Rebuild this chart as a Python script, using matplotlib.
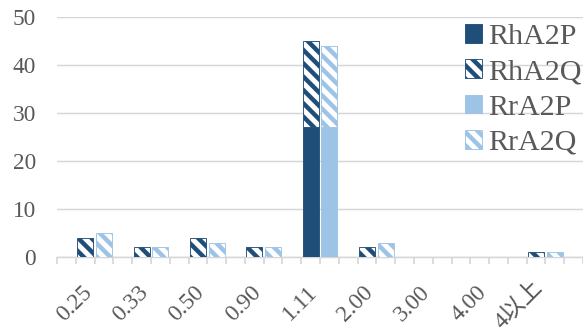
import matplotlib
matplotlib.use("Agg")
import matplotlib.pyplot as plt
import matplotlib.transforms as mtransforms
import numpy as np

# Ratio classes on the category axis
categories = ["0.25", "0.33", "0.50", "0.90", "1.11", "2.00", "3.00", "4.00", "4以上"]

# Counts per class for each series
rha2p = [0, 0, 0, 0, 27, 0, 0, 0, 0]
rha2q = [4, 2, 4, 2, 18, 2, 0, 0, 1]
rra2p = [0, 0, 0, 0, 27, 0, 0, 0, 0]
rra2q = [5, 2, 3, 2, 17, 3, 0, 0, 1]

series_names = ["RhA2P", "RhA2Q", "RrA2P", "RrA2Q"]
y_ticks = [0, 10, 20, 30, 40, 50]

dark = "#1f4e79"
light = "#9dc3e6"
grid_c = "#d6d6d6"
text_c = "#595959"

DPI = 80
plt.rcParams["hatch.linewidth"] = 4.0
plt.rcParams["font.family"] = ["Liberation Serif", "Noto Sans CJK JP"]

fig = plt.figure(figsize=(583 / DPI, 334 / DPI), dpi=DPI)
ax = fig.add_axes([57 / 583, 1 - 257 / 334, 1 - 57 / 583, 240 / 334])

n = len(categories)
idx = np.arange(n)
# three slots per class (blank, Rh, Rr) plus one trailing blank slot
x_rh = idx * 3 + 1
x_rr = idx * 3 + 2
n_slots = 3 * n + 1
w = 0.85

ax.bar(x_rh, rha2p, w, color=dark, edgecolor=dark, linewidth=0.8, label=series_names[0], zorder=3)
ax.bar(x_rh, rha2q, w, bottom=rha2p, facecolor="white", edgecolor=dark, hatch="\\\\",
       linewidth=0.8, label=series_names[1], zorder=3)
ax.bar(x_rr, rra2p, w, color=light, edgecolor=light, linewidth=0.8, label=series_names[2], zorder=3)
ax.bar(x_rr, rra2q, w, bottom=rra2p, facecolor="white", edgecolor=light, hatch="\\\\",
       linewidth=0.8, label=series_names[3], zorder=3)

ax.set_xlim(-0.5, n_slots - 0.5)
ax.set_ylim(0, 50)
ax.set_yticks(y_ticks)
ax.yaxis.grid(True, color=grid_c, linewidth=1.3, zorder=0)
ax.set_axisbelow(True)

for s in ["top", "right", "left"]:
    ax.spines[s].set_visible(False)
ax.spines["bottom"].set_color(grid_c)
ax.spines["bottom"].set_linewidth(1.3)

ax.tick_params(axis="y", length=0, pad=19, labelsize=21, labelcolor=text_c)

# boundary marks between slots; category names drawn as rotated text
ax.set_xticks(np.arange(-0.5, n_slots, 1.0))
ax.set_xticklabels([])
ax.tick_params(axis="x", length=6, width=1.5, color=grid_c)

for xpos, name in zip(x_rh, categories):
    # labels with CJK glyphs have a taller box, so lift them a little
    dy = -25 if any(ord(c) > 127 for c in name) else -29
    offset = mtransforms.ScaledTranslation(3 / 72, dy / 72, fig.dpi_scale_trans)
    ax.text(xpos, 0, name, transform=ax.get_xaxis_transform() + offset,
            rotation=45, rotation_mode="anchor", ha="right", va="center",
            fontsize=21, color=text_c, clip_on=False)

leg = ax.legend(loc="upper left", bbox_to_anchor=(465 / 583, 1 - 24 / 334),
                bbox_transform=fig.transFigure, frameon=False, fontsize=27,
                handlelength=0.58, handleheight=0.58, handletextpad=0.2,
                labelspacing=0.31, borderpad=0, borderaxespad=0)
for t in leg.get_texts():
    t.set_color(text_c)

fig.savefig("out.png", dpi=DPI)
